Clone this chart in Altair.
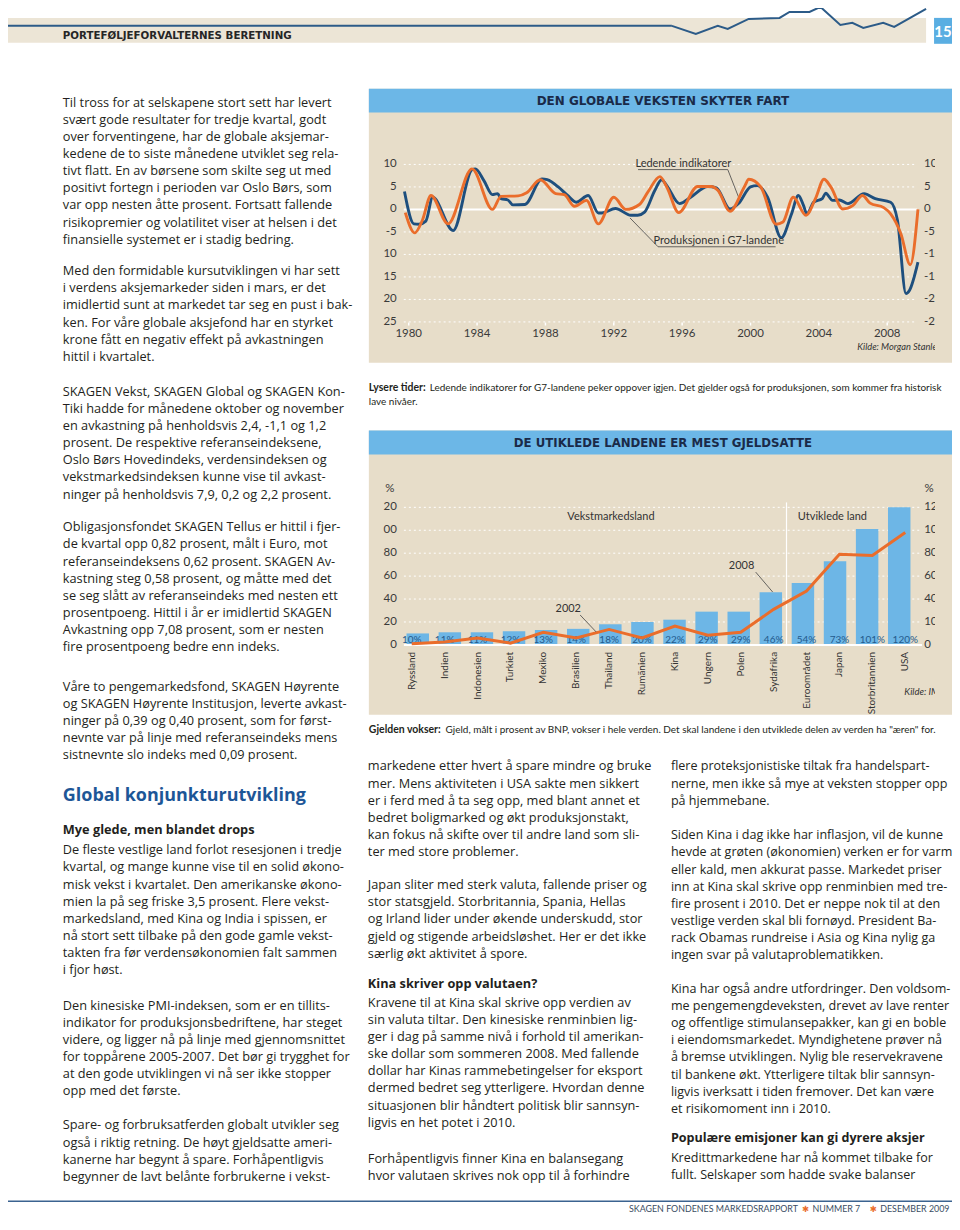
import altair as alt
import pandas as pd

# ------------------------------------------------------------------ data
# Chart 1: G7 production vs leading indicators (yoy %)
prod_year = [1979.75, 1980.3, 1980.6, 1981.0, 1981.4, 1982.6, 1983.7, 1983.9, 1984.4, 1984.9,
             1985.2, 1985.4, 1985.8, 1986.1, 1986.8, 1987.8, 1988.1, 1988.75, 1989.3, 1989.8,
             1990.5, 1991.1, 1991.3, 1992.1, 1993.0, 1993.4, 1993.8, 1994.4, 1994.8, 1995.1,
             1995.85, 1996.5, 1997.5, 1998.0, 1998.8, 1999.3, 2000.0, 2000.4, 2001.0, 2001.8,
             2002.4, 2002.8, 2003.1, 2003.3, 2003.7, 2004.2, 2004.4, 2004.8, 2005.2, 2005.7,
             2006.65, 2007.3, 2008.2, 2008.6, 2009.1, 2009.3, 2009.8]
prod_value = [4.0, -3.2, -3.3, -2.6, 2.7, -4.7, 8.8, 9.0, 6.4, 3.3,
              3.5, 2.4, 2.1, 1.0, 1.1, 6.8, 6.6, 5.0, 3.1, 1.6,
              3.1, -0.8, -0.8, 0.2, -1.3, -1.3, -0.6, 4.2, 6.6, 5.3,
              1.3, 2.7, 5.1, 4.8, 0.1, 1.3, 5.0, 5.3, 2.7, -6.3,
              -1.0, 3.1, 0.9, -1.0, 1.6, 2.4, 3.6, 2.0, 2.1, 1.3,
              3.5, 2.4, 1.6, -2.4, -18.7, -18.0, -11.7]
lead_year = [1979.8, 1980.35, 1980.8, 1981.3, 1982.3, 1983.7, 1984.9, 1985.4, 1986.4, 1986.9,
             1987.7, 1988.6, 1989.1, 1989.7, 1990.4, 1991.1, 1992.0, 1992.7, 1993.5, 1994.0,
             1994.7, 1995.1, 1995.8, 1996.9, 1997.7, 1998.1, 1998.8, 1999.65, 1999.9, 2000.6,
             2001.5, 2001.9, 2002.5, 2003.25, 2003.8, 2004.3, 2004.7, 2005.4, 2006.0, 2006.55,
             2007.0, 2007.8, 2008.2, 2008.8, 2009.35, 2009.8]
lead_value = [-0.7, -5.2, -2.4, 3.1, -3.2, 9.0, 0.0, 2.9, 3.0, 3.7,
              6.6, 3.5, 3.3, 0.7, 2.0, -3.2, 2.7, 0.0, 1.1, 3.9,
              7.3, 5.0, -0.7, 5.1, 5.1, 4.2, -0.4, 5.1, 6.7, 5.0,
              -3.3, -2.8, 2.7, -1.3, 2.4, 6.7, 5.0, 0.1, 0.9, 3.1,
              1.4, 0.4, -1.0, -5.4, -12.3, 0.0]
x_tick_years = [1980, 1984, 1988, 1992, 1996, 2000, 2004, 2008]
g_levels = [10, 5, 0, -5, -10, -15, -20, -25]
g_left_labels = ["10", "5", "0", "-5", "10", "15", "20", "25"]
g_right_labels = ["10", "5", "0", "-5", "-10", "-15", "-20", "-25"]

# Chart 2: debt in % of GDP
countries = ["Ryssland", "Indien", "Indonesien", "Turkiet", "Mexiko", "Brasilien", "Thailand",
             "Rumänien", "Kina", "Ungern", "Polen", "Sydafrika", "Euroområdet", "Japan",
             "Storbritannien", "USA"]
debt_2008 = [10, 11, 11, 12, 13, 14, 18, 20, 22, 29, 29, 46, 54, 73, 101, 120]
debt_2002 = [1, 2.5, 6, 1.5, 11, 6, 13.5, 6, 16.5, 8.5, 11, 31, 47, 79, 78, 98]
d_levels = [120, 100, 80, 60, 40, 20, 0]
d_left_labels = ["20", "00", "80", "60", "40", "20", "0"]
d_right_labels = ["120", "100", "80", "60", "40", "10", "0"]

# Decorative header sparkline
header_t = [0, 24, 46, 56, 77, 108, 118, 138, 149, 169, 181, 192, 212, 223, 255]
header_v = [16, 8, 16, 13, 23, 24, 30, 30, 35, 17, 19, 14, 19, 15, 33]

# Texts
header_title = "PORTEFØLJEFORVALTERNES BERETNING"
page_number = "15"
chart1_title = "DEN GLOBALE VEKSTEN SKYTER FART"
chart2_title = "DE UTIKLEDE LANDENE ER MEST GJELDSATTE"
cap1_bold = "Lysere tider:"
cap1_rest = "Ledende indikatorer for G7-landene peker oppover igjen. Det gjelder også for produksjonen, som kommer fra historisk"
cap1_line2 = "lave nivåer."
cap2_bold = "Gjelden vokser:"
cap2_rest = 'Gjeld, målt i prosent av BNP, vokser i hele verden. Det skal landene i den utviklede delen av verden ha "æren" for.'
footer_parts = ["SKAGEN FONDENES MARKEDSRAPPORT", "NUMMER 7", "DESEMBER 2009"]

para1 = ["Til tross for at selskapene stort sett har levert",
         "svært gode resultater for tredje kvartal, godt",
         "over forventingene, har de globale aksjemar-",
         "kedene de to siste månedene utviklet seg rela-",
         "tivt flatt. En av børsene som skilte seg ut med",
         "positivt fortegn i perioden var Oslo Børs, som",
         "var opp nesten åtte prosent. Fortsatt fallende",
         "risikopremier og volatilitet viser at helsen i det",
         "finansielle systemet er i stadig bedring."]
para2 = ["Med den formidable kursutviklingen vi har sett",
         "i verdens aksjemarkeder siden i mars, er det",
         "imidlertid sunt at markedet tar seg en pust i bak-",
         "ken. For våre globale aksjefond har en styrket",
         "krone fått en negativ effekt på avkastningen",
         "hittil i kvartalet."]
para3 = ["SKAGEN Vekst, SKAGEN Global og SKAGEN Kon-",
         "Tiki hadde for månedene oktober og november",
         "en avkastning på henholdsvis 2,4, -1,1 og 1,2",
         "prosent. De respektive referanseindeksene,",
         "Oslo Børs Hovedindeks, verdensindeksen og",
         "vekstmarkedsindeksen kunne vise til avkast-",
         "ninger på henholdsvis 7,9, 0,2 og 2,2 prosent."]
para4 = ["Obligasjonsfondet SKAGEN Tellus er hittil i fjer-",
         "de kvartal opp 0,82 prosent, målt i Euro, mot",
         "referanseindeksens 0,62 prosent. SKAGEN Av-",
         "kastning steg 0,58 prosent, og måtte med det",
         "se seg slått av referanseindeks med nesten ett",
         "prosentpoeng. Hittil i år er imidlertid SKAGEN",
         "Avkastning opp 7,08 prosent, som er nesten",
         "fire prosentpoeng bedre enn indeks."]
para5 = ["Våre to pengemarkedsfond, SKAGEN Høyrente",
         "og SKAGEN Høyrente Institusjon, leverte avkast-",
         "ninger på 0,39 og 0,40 prosent, som for først-",
         "nevnte var på linje med referanseindeks mens",
         "sistnevnte slo indeks med 0,09 prosent."]
heading1 = "Global konjunkturutvikling"
sub1 = "Mye glede, men blandet drops"
para6 = ["De fleste vestlige land forlot resesjonen i tredje",
         "kvartal, og mange kunne vise til en solid økono-",
         "misk vekst i kvartalet. Den amerikanske økono-",
         "mien la på seg friske 3,5 prosent. Flere vekst-",
         "markedsland, med Kina og India i spissen, er",
         "nå stort sett tilbake på den gode gamle vekst-",
         "takten fra før verdensøkonomien falt sammen",
         "i fjor høst."]
para7 = ["Den kinesiske PMI-indeksen, som er en tillits-",
         "indikator for produksjonsbedriftene, har steget",
         "videre, og ligger nå på linje med gjennomsnittet",
         "for toppårene 2005-2007. Det bør gi trygghet for",
         "at den gode utviklingen vi nå ser ikke stopper",
         "opp med det første."]
para8 = ["Spare- og forbruksatferden globalt utvikler seg",
         "også i riktig retning. De høyt gjeldsatte ameri-",
         "kanerne har begynt å spare. Forhåpentligvis",
         "begynner de lavt belånte forbrukerne i vekst-"]
para9 = ["markedene etter hvert å spare mindre og bruke",
         "mer. Mens aktiviteten i USA sakte men sikkert",
         "er i ferd med å ta seg opp, med blant annet et",
         "bedret boligmarked og økt produksjonstakt,",
         "kan fokus nå skifte over til andre land som sli-",
         "ter med store problemer."]
para10 = ["Japan sliter med sterk valuta, fallende priser og",
          "stor statsgjeld. Storbritannia, Spania, Hellas",
          "og Irland lider under økende underskudd, stor",
          "gjeld og stigende arbeidsløshet. Her er det ikke",
          "særlig økt aktivitet å spore."]
sub2 = "Kina skriver opp valutaen?"
para11 = ["Kravene til at Kina skal skrive opp verdien av",
          "sin valuta tiltar. Den kinesiske renminbien lig-",
          "ger i dag på samme nivå i forhold til amerikan-",
          "ske dollar som sommeren 2008. Med fallende",
          "dollar har Kinas rammebetingelser for eksport",
          "dermed bedret seg ytterligere. Hvordan denne",
          "situasjonen blir håndtert politisk blir sannsyn-",
          "ligvis en het potet i 2010."]
para12 = ["Forhåpentligvis finner Kina en balansegang",
          "hvor valutaen skrives nok opp til å forhindre"]
para13 = ["flere proteksjonistiske tiltak fra handelspart-",
          "nerne, men ikke så mye at veksten stopper opp",
          "på hjemmebane."]
para14 = ["Siden Kina i dag ikke har inflasjon, vil de kunne",
          "hevde at grøten (økonomien) verken er for varm",
          "eller kald, men akkurat passe. Markedet priser",
          "inn at Kina skal skrive opp renminbien med tre-",
          "fire prosent i 2010. Det er neppe nok til at den",
          "vestlige verden skal bli fornøyd. President Ba-",
          "rack Obamas rundreise i Asia og Kina nylig ga",
          "ingen svar på valutaproblematikken."]
para15 = ["Kina har også andre utfordringer. Den voldsom-",
          "me pengemengdeveksten, drevet av lave renter",
          "og offentlige stimulansepakker, kan gi en boble",
          "i eiendomsmarkedet. Myndighetene prøver nå",
          "å bremse utviklingen. Nylig ble reservekravene",
          "til bankene økt. Ytterligere tiltak blir sannsyn-",
          "ligvis iverksatt i tiden fremover. Det kan være",
          "et risikomoment inn i 2010."]
sub3 = "Populære emisjoner kan gi dyrere aksjer"
para16 = ["Kredittmarkedene har nå kommet tilbake for",
          "fullt. Selskaper som hadde svake balanser"]

# ------------------------------------------------------------------ style
BODY = "Open Sans"
SMALL = "Lato"
INK = "#231f20"
BEIGE = "#e7ddc9"
HBAND = "#ece5d6"
TBLUE = "#6cb7e7"
NAVY = "#1a2a48"
BLUE = "#1e4f7e"
ORANGE = "#ea6d2b"
BARBLUE = "#6db6e6"
HEADBLUE = "#1d5697"
AXINK = "#3a3a3a"
LH = 17.2
OFF = 8  # page margin

one = pd.DataFrame({"k": [0]})


def box(x0, x1, y0, y1, color):
    return alt.Chart(one).mark_rect(color=color).encode(
        x=alt.value(x0 - OFF), x2=alt.value(x1 - OFF),
        y=alt.value(y0 - OFF), y2=alt.value(y1 - OFF))


def hrule(x0, x1, y, color, w):
    return alt.Chart(one).mark_rule(color=color, strokeWidth=w).encode(
        x=alt.value(x0 - OFF), x2=alt.value(x1 - OFF), y=alt.value(y - OFF))


rows = []


def add(style, px, py, lines):
    for i, s in enumerate(lines):
        rows.append(dict(style=style, x=px - OFF, y=py - OFF + i * LH, text=s))


# page text layout
add("hdr", 63, 34, [header_title])
add("pnum", 946, 30, [page_number])
add("body", 63, 101, para1)
add("body", 63, 270, para2)
add("body", 63, 391, para3)
add("body", 63, 527, para4)
add("body", 63, 687, para5)
add("h1", 63, 797, [heading1])
add("bold", 63, 831, [sub1])
add("body", 63, 851, para6)
add("body", 63, 1007, para7)
add("body", 63, 1127, para8)
add("body", 369, 767, para9)
add("body", 369, 886, para10)
add("bold", 369, 985, [sub2])
add("body", 369, 1004, para11)
add("body", 369, 1161, para12)
add("bodyr", 673, 767, para13)
add("bodyr", 673, 836, para14)
add("bodyr", 673, 990, para15)
add("boldr", 673, 1140, [sub3])
add("bodyr", 673, 1160, para16)
add("title", 665, 99, [chart1_title])
add("title2", 665, 442, [chart2_title])
add("capb", 370, 387, [cap1_bold])
add("cap", 431, 387, [cap1_rest])
add("cap", 370, 401, [cap1_line2])
add("capb", 370, 730, [cap2_bold])
add("cap", 447, 730, [cap2_rest])
add("ftr", 631, 1211, [footer_parts[0]])
add("ftr", 815, 1211, [footer_parts[1]])
add("ftr", 883, 1211, [footer_parts[2]])
add("star", 808, 1211, ["✱"])
add("star", 876, 1211, ["✱"])
texts = pd.DataFrame(rows)

STY = {
    "body": dict(font=BODY, fontSize=12.8, color=INK),
    "bold": dict(font=BODY, fontSize=12.8, fontWeight="bold", color=INK),
    "bodyr": dict(font=BODY, fontSize=12.6, color=INK),
    "boldr": dict(font=BODY, fontSize=12.6, fontWeight="bold", color=INK),
    "h1": dict(font=BODY, fontSize=18, fontWeight="bold", color=HEADBLUE),
    "cap": dict(font=SMALL, fontSize=10, color=INK),
    "capb": dict(font=SMALL, fontSize=10.5, fontWeight="bold", color=INK),
    "hdr": dict(font="DejaVu Sans", fontSize=10.3, fontWeight="bold", color="#262626"),
    "pnum": dict(font=SMALL, fontSize=15, fontWeight="bold", color="white", align="center"),
    "title": dict(font="DejaVu Sans", fontSize=12, fontWeight="bold", color=NAVY, align="center"),
    "title2": dict(font="DejaVu Sans", fontSize=11.8, fontWeight="bold", color=NAVY, align="center"),
    "ftr": dict(font=SMALL, fontSize=8.9, color="#3a4d63"),
    "star": dict(font="DejaVu Sans", fontSize=8.5, color=ORANGE, align="center"),
}

text_layers = []
for sty, kw in STY.items():
    kw = dict(kw)
    align = kw.pop("align", "left")
    text_layers.append(
        alt.Chart(texts[texts["style"] == sty]).mark_text(align=align, baseline="middle", **kw).encode(
            x=alt.X("x:Q", scale=None, axis=None),
            y=alt.Y("y:Q", scale=None, axis=None),
            text="text:N"))

# ------------------------------------------------------------------ header
XH = alt.Scale(domain=[0, 255], range=[666, 921], nice=False, zero=False)
YH = alt.Scale(domain=[0, 40], range=[32, -8], nice=False, zero=False)
header_layers = [
    box(8, 929, 16, 41, HBAND),
    box(937, 955, 16, 42, "#5aaee2"),
    hrule(8, 674, 24, "#2c5b88", 2),
    alt.Chart(pd.DataFrame({"t": header_t, "v": header_v})).mark_line(color="#2c5b88", strokeWidth=2).encode(
        x=alt.X("t:Q", scale=XH, axis=None), y=alt.Y("v:Q", scale=YH, axis=None)),
    hrule(8, 955, 1203, "#3b6390", 1.5),
]

# ------------------------------------------------------------------ chart 1
X1 = alt.Scale(domain=[1980, 2008], range=[402, 882], nice=False, zero=False)
Y1 = alt.Scale(domain=[-25, 10], range=[313, 155], nice=False, zero=False)
GX0, GX1 = 1979.71, 2009.75

grid1 = pd.DataFrame({"v": [g for g in g_levels if g != 0]})
grid1["a"], grid1["b"] = GX0, GX1
zero1 = pd.DataFrame({"v": [0], "a": [GX0], "b": [GX1]})
lab1 = pd.DataFrame({"v": g_levels, "left": g_left_labels, "right": g_right_labels})
lab1["la"], lab1["ra"] = 1979.3, 2010.16
xl1 = pd.DataFrame({"year": x_tick_years, "label": [str(y) for y in x_tick_years]})
xl1["v"], xl1["v0"], xl1["v1"] = -27.66, -25.15, -25.8
ann1 = pd.DataFrame({"year": [1996.07, 1998.14], "v": [10.2, -7.0],
                     "label": ["Ledende indikatorer", "Produksjonen i G7-landene"]})
lead1 = pd.DataFrame({"x0": [1993.42, 1998.67, 1994.59, 1994.59],
                      "y0": [8.85, 8.85, -8.3, -8.3],
                      "x1": [1998.67, 1999.31, 2001.47, 1992.95],
                      "y1": [8.85, 2.65, -8.3, -1.9]})
src1 = pd.DataFrame({"year": [2006.25], "v": [-30.5], "label": ["Kilde: Morgan Stanley"]})


def c1(df):
    return alt.Chart(df)


chart1_layers = [
    box(370, 955, 87, 362, BEIGE),
    box(370, 955, 87, 111, TBLUE),
    c1(grid1).mark_rule(color="white", strokeDash=[2, 3], strokeWidth=1).encode(
        x=alt.X("a:Q", scale=X1, axis=None), x2="b:Q", y=alt.Y("v:Q", scale=Y1, axis=None)),
    c1(zero1).mark_rule(color="white", strokeWidth=2).encode(
        x=alt.X("a:Q", scale=X1, axis=None), x2="b:Q", y=alt.Y("v:Q", scale=Y1, axis=None)),
    c1(xl1).mark_rule(color="white", strokeWidth=1.5).encode(
        x=alt.X("year:Q", scale=X1, axis=None), y=alt.Y("v0:Q", scale=Y1, axis=None), y2="v1:Q"),
    c1(lead1).mark_rule(color="#444444", strokeWidth=0.8).encode(
        x=alt.X("x0:Q", scale=X1, axis=None), y=alt.Y("y0:Q", scale=Y1, axis=None), x2="x1:Q", y2="y1:Q"),
    c1(pd.DataFrame({"year": prod_year, "v": prod_value})).mark_line(
        color=BLUE, strokeWidth=2.9, interpolate="monotone").encode(
        x=alt.X("year:Q", scale=X1, axis=None), y=alt.Y("v:Q", scale=Y1, axis=None)),
    c1(pd.DataFrame({"year": lead_year, "v": lead_value})).mark_line(
        color=ORANGE, strokeWidth=2.9, interpolate="monotone").encode(
        x=alt.X("year:Q", scale=X1, axis=None), y=alt.Y("v:Q", scale=Y1, axis=None)),
    c1(lab1).mark_text(align="right", baseline="middle", font=SMALL, fontSize=11.5, color=AXINK).encode(
        x=alt.X("la:Q", scale=X1, axis=None), y=alt.Y("v:Q", scale=Y1, axis=None), text="left:N"),
    c1(lab1).mark_text(align="left", baseline="middle", font=SMALL, fontSize=11.5, color=AXINK, clip=True).encode(
        x=alt.X("ra:Q", scale=X1, axis=None), y=alt.Y("v:Q", scale=Y1, axis=None), text="right:N"),
    c1(xl1).mark_text(align="center", baseline="middle", font=SMALL, fontSize=11.5, color=AXINK).encode(
        x=alt.X("year:Q", scale=X1, axis=None), y=alt.Y("v:Q", scale=Y1, axis=None), text="label:N"),
    c1(ann1).mark_text(align="center", baseline="middle", font=SMALL, fontSize=11, color="#333333").encode(
        x=alt.X("year:Q", scale=X1, axis=None), y=alt.Y("v:Q", scale=Y1, axis=None), text="label:N"),
    c1(src1).mark_text(align="left", baseline="middle", font=SMALL, fontSize=9.3, fontStyle="italic",
                       color="#333333", clip=True).encode(
        x=alt.X("year:Q", scale=X1, axis=None), y=alt.Y("v:Q", scale=Y1, axis=None), text="label:N"),
]

# ------------------------------------------------------------------ chart 2
XB = alt.Scale(domain=countries, range=[388.5, 916.6], paddingInner=0.3, paddingOuter=0.35)
YB = alt.Scale(domain=[0, 120], range=[637, 499], nice=False, zero=False)
XI = alt.Scale(domain=[0, 15], range=[411, 894], nice=False, zero=False)

debt = pd.DataFrame({"country": countries, "d08": debt_2008, "d02": debt_2002,
                     "lab": [f"{d}%" for d in debt_2008]})
debt["ly"], debt["cy"] = 4.35, -6.1
grid2 = pd.DataFrame({"v": [d for d in d_levels if d != 0]})
grid2["a"], grid2["b"] = -0.43, 15.71
zero2 = pd.DataFrame({"v": [0], "a": [-0.43], "b": [15.71]})
lab2 = pd.DataFrame({"v": d_levels, "left": d_left_labels, "right": d_right_labels})
lab2["la"], lab2["ra"] = -0.65, 15.78
pct2 = pd.DataFrame({"i": [-0.87, 15.93], "v": [135.7, 135.7], "label": ["%", "%"]})
ann2 = pd.DataFrame({"i": [6.02, 12.92, 4.69, 10.09], "v": [111.3, 111.3, 31.3, 68.7],
                     "label": ["Vekstmarkedsland", "Utviklede land", "2002", "2008"]})
lead2 = pd.DataFrame({"x0": [5.06, 10.53], "y0": [26.1, 63.5], "x1": [5.56, 11.06], "y1": [11.3, 46.1]})
sep2 = pd.DataFrame({"i": [11.49], "v0": [0], "v1": [124.3]})
src2 = pd.DataFrame({"i": [15.16], "v": [-40.9], "label": ["Kilde: IM"]})

chart2_layers = [
    box(370, 955, 430, 715, BEIGE),
    box(370, 955, 430, 454, TBLUE),
    alt.Chart(grid2).mark_rule(color="white", strokeDash=[2, 3], strokeWidth=1).encode(
        x=alt.X("a:Q", scale=XI, axis=None), x2="b:Q", y=alt.Y("v:Q", scale=YB, axis=None)),
    alt.Chart(sep2).mark_rule(color="white", strokeWidth=1.2).encode(
        x=alt.X("i:Q", scale=XI, axis=None), y=alt.Y("v0:Q", scale=YB, axis=None), y2="v1:Q"),
    alt.Chart(debt).mark_bar(color=BARBLUE).encode(
        x=alt.X("country:N", scale=XB, axis=None, sort=None), y=alt.Y("d08:Q", scale=YB, axis=None)),
    alt.Chart(zero2).mark_rule(color="white", strokeWidth=2).encode(
        x=alt.X("a:Q", scale=XI, axis=None), x2="b:Q", y=alt.Y("v:Q", scale=YB, axis=None)),
    alt.Chart(debt).mark_text(align="center", baseline="middle", font=SMALL, fontSize=10, color="#245a8c").encode(
        x=alt.X("country:N", scale=XB, axis=None, sort=None), y=alt.Y("ly:Q", scale=YB, axis=None), text="lab:N"),
    alt.Chart(debt).mark_line(color=ORANGE, strokeWidth=3).encode(
        x=alt.X("country:N", scale=XB, axis=None, sort=None), y=alt.Y("d02:Q", scale=YB, axis=None)),
    alt.Chart(debt).mark_text(align="right", baseline="middle", angle=270, font=SMALL, fontSize=10,
                              color="#333333").encode(
        x=alt.X("country:N", scale=XB, axis=None, sort=None), y=alt.Y("cy:Q", scale=YB, axis=None), text="country:N"),
    alt.Chart(lead2).mark_rule(color="#444444", strokeWidth=0.8).encode(
        x=alt.X("x0:Q", scale=XI, axis=None), y=alt.Y("y0:Q", scale=YB, axis=None), x2="x1:Q", y2="y1:Q"),
    alt.Chart(lab2).mark_text(align="right", baseline="middle", font=SMALL, fontSize=11.5, color=AXINK).encode(
        x=alt.X("la:Q", scale=XI, axis=None), y=alt.Y("v:Q", scale=YB, axis=None), text="left:N"),
    alt.Chart(lab2).mark_text(align="left", baseline="middle", font=SMALL, fontSize=11.5, color=AXINK, clip=True).encode(
        x=alt.X("ra:Q", scale=XI, axis=None), y=alt.Y("v:Q", scale=YB, axis=None), text="right:N"),
    alt.Chart(pct2).mark_text(align="center", baseline="middle", font=SMALL, fontSize=11.5, color=AXINK).encode(
        x=alt.X("i:Q", scale=XI, axis=None), y=alt.Y("v:Q", scale=YB, axis=None), text="label:N"),
    alt.Chart(ann2).mark_text(align="center", baseline="middle", font=SMALL, fontSize=11, color="#333333").encode(
        x=alt.X("i:Q", scale=XI, axis=None), y=alt.Y("v:Q", scale=YB, axis=None), text="label:N"),
    alt.Chart(src2).mark_text(align="left", baseline="middle", font=SMALL, fontSize=9.5, fontStyle="italic",
                              color="#333333", clip=True).encode(
        x=alt.X("i:Q", scale=XI, axis=None), y=alt.Y("v:Q", scale=YB, axis=None), text="label:N"),
]

chart = alt.layer(*(header_layers + chart1_layers + chart2_layers + text_layers)).resolve_scale(
    x="independent", y="independent"
).properties(
    width=930, height=1209,
    autosize=alt.AutoSizeParams(type="none"),
    padding={"left": 0, "top": 0, "right": 17, "bottom": 0},
    background="white",
).configure_view(stroke=None)

chart.save("out.html", embed_options={"renderer": "svg", "actions": False})
